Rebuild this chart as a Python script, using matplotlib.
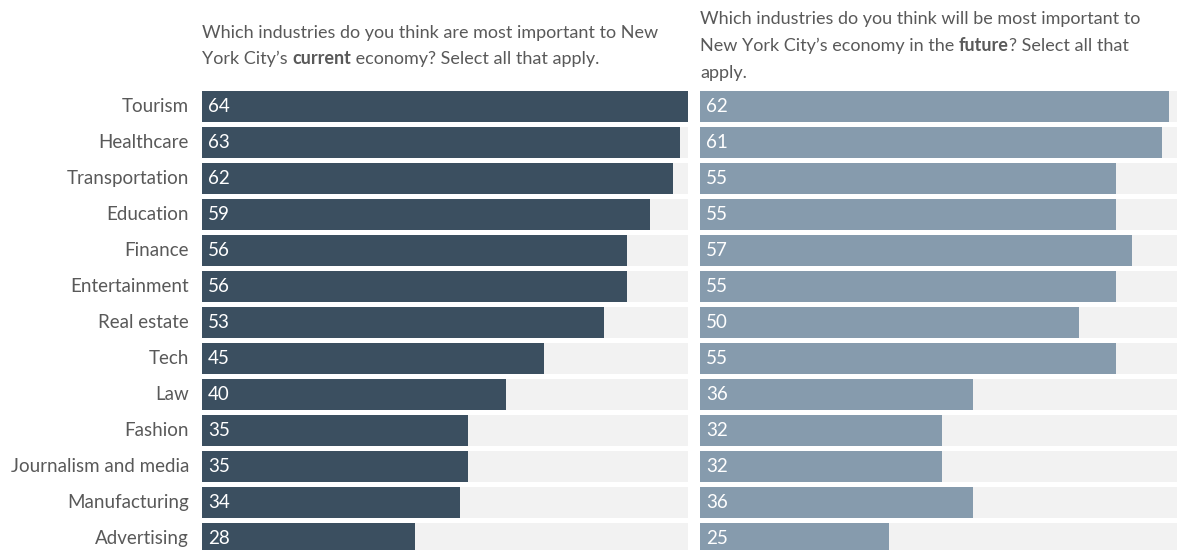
import matplotlib.pyplot as plt
import numpy as np
from matplotlib.transforms import offset_copy

plt.rcParams['font.family'] = ['Lato', 'DejaVu Sans']

industries = ['Tourism', 'Healthcare', 'Transportation', 'Education', 'Finance',
              'Entertainment', 'Real estate', 'Tech', 'Law', 'Fashion',
              'Journalism and media', 'Manufacturing', 'Advertising']
current = [64, 63, 62, 59, 56, 56, 53, 45, 40, 35, 35, 34, 28]
future = [62, 61, 55, 55, 57, 55, 50, 55, 36, 32, 32, 36, 25]

DARK = '#3b4f60'
LIGHT = '#869bad'
BG = '#f2f2f2'
TXT = '#595959'

W, H = 1177, 550
fig = plt.figure(figsize=(W / 100, H / 100), dpi=100)

top_px = 88.5
ylo = (H - 106.5) / 36


def panel(left_px, width_px, vals, xmax, color):
    ax = fig.add_axes([left_px / W, 0, width_px / W, (H - top_px) / H])
    y = np.arange(len(vals))
    ax.barh(y, [xmax] * len(vals), height=0.86, color=BG, linewidth=0)
    ax.barh(y, vals, height=0.86, color=color, linewidth=0)
    # value labels sit a few pixels inside the bar start
    tr = offset_copy(ax.get_yaxis_transform(), fig=fig, x=6, y=0, units='dots')
    for yi, v in zip(y, vals):
        ax.text(0, yi, str(v), transform=tr, color='white', fontsize=13.5,
                va='center', ha='left')
    ax.set_xlim(0, xmax)
    ax.set_ylim(ylo, -0.5)
    ax.axis('off')
    return ax


axl = panel(202, 486, current, 64, DARK)
axr = panel(700, 477, future, 63, LIGHT)

tr = offset_copy(axl.get_yaxis_transform(), fig=fig, x=-13, y=0, units='dots')
for i, name in enumerate(industries):
    axl.text(0, i, name, transform=tr, ha='right', va='center',
             fontsize=13.5, color=TXT)


def line(x_px, y_px, parts):
    prev = None
    for s, bold in parts:
        w = 'bold' if bold else 'normal'
        if prev is None:
            prev = fig.text(x_px / W, 1 - y_px / H, s, fontsize=13, color=TXT,
                            fontweight=w, va='baseline', ha='left')
        else:
            prev = fig.add_artist(plt.Annotation(
                s, xy=(1, 0), xycoords=prev, va='bottom', ha='left', fontsize=13,
                color=TXT, fontweight=w, annotation_clip=False))
    return prev


line(202, 38, [('Which industries do you think are most important to New', False)])
line(202, 64, [('York City\u2019s ', False), ('current', True),
               (' economy? Select all that apply.', False)])
line(700, 24, [('Which industries do you think will be most important to', False)])
line(700, 51, [('New York City\u2019s economy in the ', False), ('future', True),
               ('? Select all that', False)])
line(700, 78, [('apply.', False)])

fig.savefig('out.png', dpi=100)
